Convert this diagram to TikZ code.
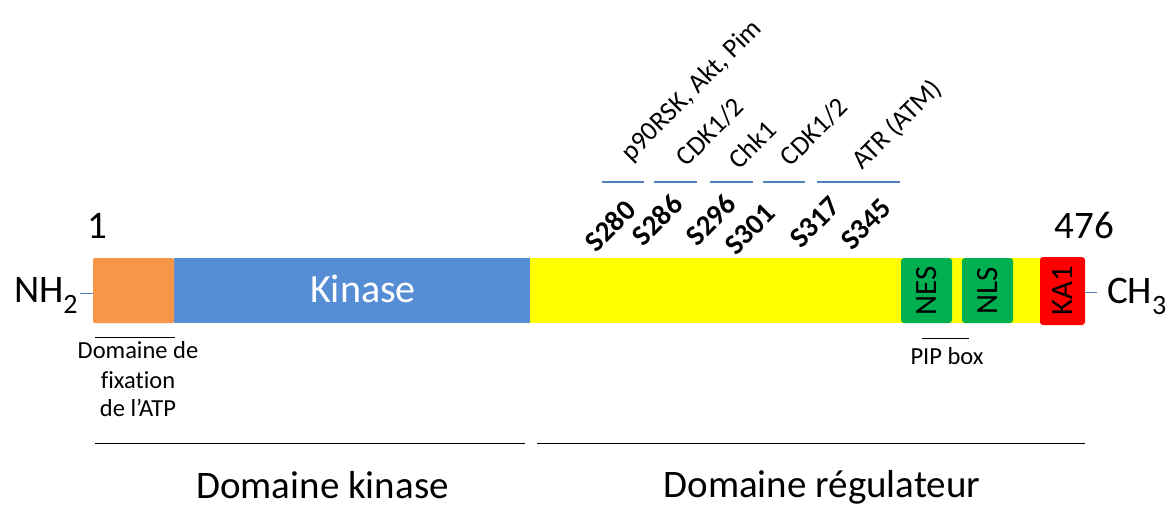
\documentclass[tikz,border=0pt]{standalone}
\usepackage{fontspec}
\setmainfont{Carlito}[Ligatures=NoCommon]
\definecolor{cOrange}{HTML}{F79646}
\definecolor{cBlue}{HTML}{558ED5}
\definecolor{cYellow}{HTML}{FFFF00}
\definecolor{cGreen}{HTML}{00B050}
\definecolor{cRed}{HTML}{FF0000}
\definecolor{cLine}{HTML}{4F81BD}
\tikzset{
  protbox/.style={minimum height=65pt, inner sep=0pt, outer sep=0pt},
  motif/.style={minimum width=51pt, minimum height=65pt, inner sep=0pt, rounded corners=3pt, fill=cGreen, font=\fontsize{31}{36}\selectfont},
  site/.style={rotate=45, inner sep=0pt, font=\fontsize{29}{34}\selectfont\bfseries},
  kin/.style={rotate=45, inner sep=0pt, font=\fontsize{27}{32}\selectfont},
  smalltxt/.style={inner sep=0pt, font=\fontsize{24.5}{29}\selectfont},
  bigtxt/.style={inner sep=0pt, font=\fontsize{39}{46}\selectfont},
  blueline/.style={draw=cLine, line width=1.5pt},
  blackline/.style={draw=black, line width=1pt},
}
\begin{document}
\begin{tikzpicture}[x=1pt,y=-1pt]
\useasboundingbox (0,0) rectangle (1168,507);
% main domains
\node[protbox, fill=cYellow, minimum width=532pt] (yellow) at (796,290.5) {};
\node[protbox, fill=cBlue, minimum width=356pt] (blue) at (352,290.5) {};
\node[protbox, fill=cOrange, minimum width=81pt, rounded corners=2pt] (orange) at (133.5,290.5) {};
\node[inner sep=0pt, text=white, font=\fontsize{40}{46}\selectfont, anchor=base] (kinase) at (363,302) {Kinase};
\node[motif] (nes) at (926.5,290.5) {\rotatebox{90}{NES}};
\node[motif] (nls) at (987.5,290.5) {\rotatebox{90}{NLS}};
\node[motif, fill=cRed, minimum width=45pt, minimum height=68pt] (ka1) at (1062.5,291) {\rotatebox{90}{KA1}};
% termini
\node[bigtxt, anchor=base west, outer sep=3pt] (nh2) at (11,302) {NH\raisebox{-0.3em}{\fontsize{28}{32}\selectfont 2}};
\node[bigtxt, anchor=base west, outer sep=5pt] (ch3) at (1102,303) {CH\raisebox{-0.3em}{\fontsize{28}{32}\selectfont 3}};
\coordinate (nhl) at (80,293);
\coordinate (chl) at (1097,292);
\draw[draw=cLine, line width=1pt] (nhl) -- (orange.west |- nhl);
\draw[draw=cLine, line width=1pt] (ka1.east |- chl) -- (chl);
\node[bigtxt, anchor=base] (n1) at (97.5,238) {1};
\node[bigtxt, anchor=base] (n476) at (1084.5,238) {476};
% ATP binding
\coordinate (atpa) at (95,337);
\coordinate (atpb) at (175,337);
\draw[blackline] (atpa) -- (atpb);
\node[smalltxt, anchor=base] (atp1) at (138,358) {Domaine de};
\node[smalltxt, anchor=base] (atp2) at (138,388) {fixation};
\node[smalltxt, anchor=base] (atp3) at (138,416) {de l’ATP};
% PIP box
\coordinate (pipa) at (922,338);
\coordinate (pipb) at (969,338);
\draw[blackline] (pipa) -- (pipb);
\node[smalltxt, anchor=base] (pip) at (947,364) {PIP box};
% phosphosites
\node[site] (s280) at (610,226) {S280};
\node[site] (s286) at (657,220) {S286};
\node[site] (s296) at (711,220) {S296};
\node[site] (s301) at (750,229) {S301};
\node[site] (s317) at (815,222) {S317};
\node[site] (s345) at (866,224) {S345};
% kinase groups
\coordinate (b1a) at (602,182); \coordinate (b1b) at (644,182);
\coordinate (b2a) at (654,182); \coordinate (b2b) at (697,182);
\coordinate (b3a) at (710,182); \coordinate (b3b) at (753,182);
\coordinate (b4a) at (763,182); \coordinate (b4b) at (805,182);
\coordinate (b5a) at (817,182); \coordinate (b5b) at (900,182);
\draw[blueline] (b1a) -- (b1b);
\draw[blueline] (b2a) -- (b2b);
\draw[blueline] (b3a) -- (b3b);
\draw[blueline] (b4a) -- (b4b);
\draw[blueline] (b5a) -- (b5b);
\node[kin] (k1) at (692,91) {p90RSK, Akt, Pim};
\node[kin] (k2) at (710,132) {CDK1/2};
\node[kin] (k3) at (752,145) {Chk1};
\node[kin] (k4) at (814,132) {CDK1/2};
\node[kin] (k5) at (897,125) {ATR (ATM)};
% domain brackets
\coordinate (dka) at (95,443); \coordinate (dkb) at (525,443);
\coordinate (dra) at (537,443); \coordinate (drb) at (1085,443);
\draw[blackline] (dka) -- (dkb);
\draw[blackline] (dra) -- (drb);
\node[bigtxt, anchor=base] (dk) at (322.5,498) {Domaine kinase};
\node[bigtxt, anchor=base] (dr) at (822,497) {Domaine régulateur};
\end{tikzpicture}
\end{document}
